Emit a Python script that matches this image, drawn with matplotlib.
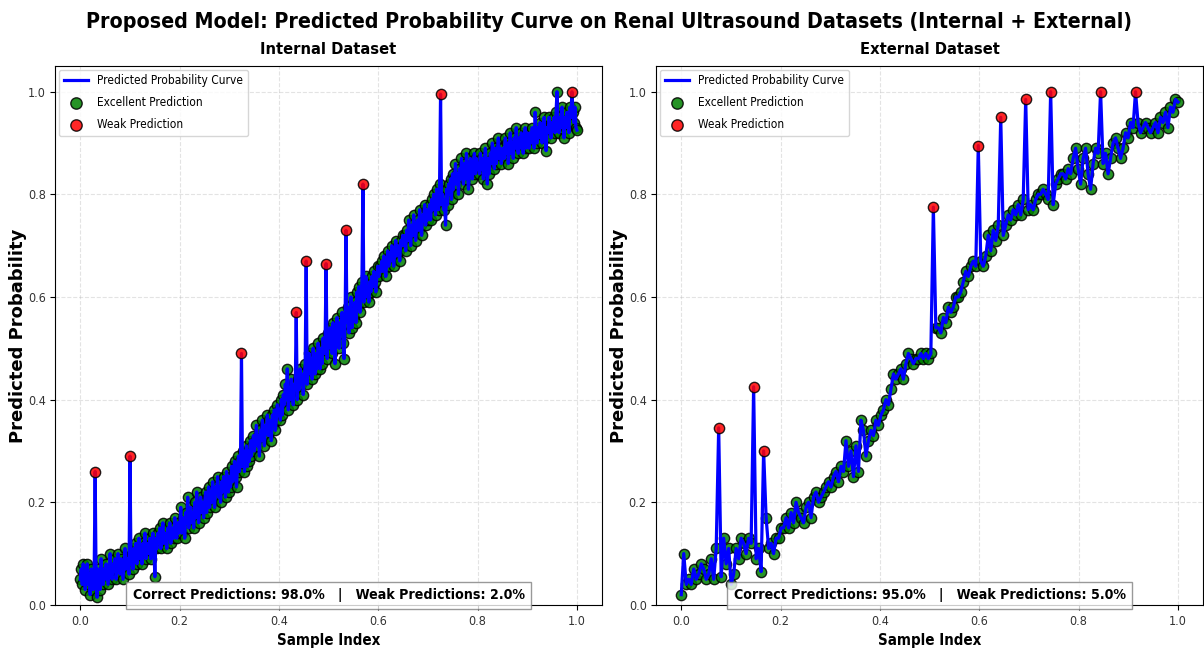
import numpy as np
import matplotlib
matplotlib.use("Agg")
import matplotlib.pyplot as plt
from matplotlib import font_manager

# pick a narrow face if one is installed
names = {(f.name, f.stretch) for f in font_manager.fontManager.ttflist}
if ("DejaVu Sans", "condensed") in names or ("DejaVu Sans", "semi-condensed") in names:
    FONT = dict(family="DejaVu Sans", stretch="condensed")
elif any(n == "Liberation Sans Narrow" for n, _ in names):
    FONT = dict(family="Liberation Sans Narrow", stretch="normal")
else:
    FONT = dict(family="DejaVu Sans", stretch="normal")
plt.rcParams["font.family"] = FONT["family"]
plt.rcParams["font.stretch"] = FONT["stretch"]

# ---- data ----
internal_prob = [
    0.05, 0.07, 0.04, 0.08, 0.06, 0.03, 0.05, 0.08, 0.04, 0.06, 0.02, 0.07, 0.05, 0.03, 0.06, 0.26, 0.04, 0.015, 0.07, 0.05, 0.03, 0.09, 0.06, 0.04, 0.07,
    0.05, 0.08, 0.06, 0.04, 0.07, 0.10, 0.06, 0.05, 0.08, 0.07, 0.09, 0.05, 0.07, 0.10, 0.08, 0.06, 0.09, 0.07, 0.05, 0.08, 0.11, 0.07, 0.09, 0.08, 0.06,
    0.29, 0.08, 0.10, 0.07, 0.11, 0.09, 0.12, 0.08, 0.10, 0.13, 0.09, 0.11, 0.08, 0.12, 0.10, 0.14, 0.09, 0.12, 0.11, 0.10, 0.13, 0.09, 0.12, 0.14, 0.11,
    0.055, 0.13, 0.11, 0.14, 0.12, 0.15, 0.11, 0.13, 0.16, 0.12, 0.14, 0.13, 0.11, 0.15, 0.13, 0.16, 0.12, 0.14, 0.15, 0.13, 0.17, 0.14, 0.13, 0.16, 0.14,
    0.15, 0.19, 0.14, 0.17, 0.16, 0.13, 0.18, 0.16, 0.21, 0.15, 0.17, 0.19, 0.16, 0.18, 0.15, 0.20, 0.17, 0.22, 0.18, 0.16, 0.19, 0.21, 0.18, 0.20, 0.17,
    0.20, 0.22, 0.18, 0.21, 0.23, 0.19, 0.22, 0.20, 0.24, 0.21, 0.19, 0.23, 0.22, 0.25, 0.21, 0.23, 0.20, 0.24, 0.22, 0.25, 0.23, 0.21, 0.26, 0.24, 0.22,
    0.25, 0.23, 0.27, 0.24, 0.26, 0.28, 0.25, 0.23, 0.27, 0.29, 0.26, 0.28, 0.49, 0.27, 0.30, 0.26, 0.29, 0.31, 0.27, 0.30, 0.28, 0.32, 0.29, 0.31, 0.33,
    0.30, 0.32, 0.35, 0.31, 0.33, 0.29, 0.34, 0.32, 0.36, 0.33, 0.31, 0.35, 0.34, 0.37, 0.33, 0.36, 0.34, 0.32, 0.37, 0.35, 0.38, 0.34, 0.36, 0.39, 0.37,
    0.38, 0.36, 0.40, 0.37, 0.41, 0.39, 0.43, 0.40, 0.46, 0.38, 0.42, 0.40, 0.44, 0.41, 0.39, 0.43, 0.42, 0.57, 0.40, 0.44, 0.42, 0.46, 0.43, 0.45, 0.41,
    0.44, 0.47, 0.67, 0.43, 0.46, 0.49, 0.45, 0.48, 0.44, 0.50, 0.47, 0.45, 0.49, 0.46, 0.51, 0.48, 0.46, 0.50, 0.47, 0.52, 0.49, 0.51, 0.665, 0.48, 0.53,
    0.50, 0.54, 0.52, 0.49, 0.55, 0.51, 0.47, 0.53, 0.56, 0.52, 0.50, 0.55, 0.53, 0.57, 0.51, 0.48, 0.54, 0.73, 0.55, 0.58, 0.53, 0.56, 0.60, 0.54, 0.57,
    0.56, 0.59, 0.55, 0.61, 0.58, 0.62, 0.57, 0.60, 0.63, 0.82, 0.59, 0.61, 0.64, 0.60, 0.62, 0.59, 0.63, 0.61, 0.64, 0.62, 0.65, 0.63, 0.61, 0.64, 0.66,
    0.64, 0.66, 0.65, 0.67, 0.65, 0.68, 0.66, 0.64, 0.67, 0.69, 0.66, 0.68, 0.67, 0.70, 0.68, 0.66, 0.69, 0.71, 0.68, 0.70, 0.69, 0.67, 0.71, 0.70, 0.72,
    0.70, 0.72, 0.69, 0.73, 0.71, 0.75, 0.72, 0.70, 0.74, 0.72, 0.76, 0.73, 0.71, 0.74, 0.75, 0.73, 0.77, 0.74, 0.72, 0.76, 0.75, 0.78, 0.74, 0.77, 0.75,
    0.76, 0.78, 0.75, 0.79, 0.77, 0.80, 0.78, 0.76, 0.81, 0.79, 0.77, 0.82, 0.995, 0.78, 0.80, 0.77, 0.79, 0.74, 0.81, 0.78, 0.82, 0.80, 0.83, 0.79, 0.84,
    0.81, 0.83, 0.86, 0.82, 0.84, 0.80, 0.85, 0.83, 0.87, 0.84, 0.82, 0.86, 0.83, 0.88, 0.85, 0.81, 0.84, 0.87, 0.85, 0.83, 0.86, 0.88, 0.84, 0.87, 0.85,
    0.86, 0.84, 0.88, 0.85, 0.87, 0.83, 0.86, 0.89, 0.85, 0.82, 0.87, 0.84, 0.88, 0.86, 0.90, 0.87, 0.85, 0.89, 0.86, 0.88, 0.91, 0.87, 0.89, 0.86, 0.88,
    0.89, 0.87, 0.91, 0.88, 0.90, 0.86, 0.89, 0.92, 0.88, 0.90, 0.87, 0.91, 0.89, 0.93, 0.90, 0.88, 0.91, 0.89, 0.92, 0.90, 0.88, 0.91, 0.93, 0.89, 0.92,
    0.91, 0.89, 0.92, 0.90, 0.93, 0.91, 0.89, 0.96, 0.92, 0.90, 0.93, 0.91, 0.94, 0.92, 0.90, 0.93, 0.95, 0.91, 0.885, 0.93, 0.92, 0.95, 0.93, 0.91, 0.94,
    0.93, 0.95, 0.92, 0.96, 1.00, 0.94, 0.92, 0.95, 0.93, 0.97, 0.94, 0.91, 0.95, 0.93, 0.96, 0.94, 0.92, 0.97, 0.95, 1.00, 0.96, 0.94, 0.97, 0.93, 0.925,
]
internal_weak = [15, 50, 162, 217, 227, 247, 267, 284, 362, 494]

external_prob = [
    0.02, 0.10, 0.04, 0.05, 0.04, 0.07, 0.05, 0.06, 0.08, 0.07, 0.05, 0.06, 0.09, 0.05, 0.11, 0.345, 0.055, 0.13, 0.08, 0.11,
    0.04, 0.06, 0.11, 0.09, 0.13, 0.12, 0.10, 0.13, 0.12, 0.425, 0.09, 0.11, 0.065, 0.30, 0.17, 0.11, 0.12, 0.10, 0.13, 0.13,
    0.15, 0.15, 0.17, 0.15, 0.18, 0.16, 0.20, 0.18, 0.17, 0.16, 0.19, 0.20, 0.17, 0.21, 0.22, 0.20, 0.21, 0.22, 0.23, 0.24,
    0.23, 0.25, 0.26, 0.24, 0.27, 0.26, 0.32, 0.27, 0.30, 0.25, 0.31, 0.26, 0.36, 0.34, 0.29, 0.32, 0.34, 0.33, 0.36, 0.35,
    0.37, 0.38, 0.40, 0.39, 0.42, 0.45, 0.44, 0.45, 0.46, 0.44, 0.47, 0.49, 0.48, 0.47, 0.48, 0.48, 0.49, 0.48, 0.49, 0.48,
    0.49, 0.775, 0.54, 0.54, 0.53, 0.56, 0.55, 0.58, 0.57, 0.58, 0.60, 0.60, 0.61, 0.63, 0.65, 0.64, 0.66, 0.67, 0.66, 0.895,
    0.67, 0.66, 0.68, 0.72, 0.69, 0.73, 0.71, 0.74, 0.95, 0.72, 0.74, 0.76, 0.75, 0.77, 0.76, 0.78, 0.76, 0.79, 0.985, 0.77,
    0.78, 0.77, 0.79, 0.80, 0.80, 0.81, 0.80, 0.79, 1.00, 0.78, 0.82, 0.83, 0.84, 0.84, 0.83, 0.85, 0.84, 0.87, 0.89, 0.85,
    0.82, 0.87, 0.89, 0.84, 0.81, 0.86, 0.89, 0.88, 1.00, 0.86, 0.88, 0.84, 0.87, 0.90, 0.91, 0.89, 0.87, 0.89, 0.92, 0.91,
    0.94, 0.93, 1.00, 0.94, 0.92, 0.93, 0.94, 0.93, 0.92, 0.93, 0.94, 0.92, 0.95, 0.94, 0.96, 0.93, 0.97, 0.96, 0.985, 0.98,
]
external_weak = [15, 29, 33, 101, 119, 128, 138, 148, 168, 182]

panels = [
    ("Internal Dataset", internal_prob, internal_weak),
    ("External Dataset", external_prob, external_weak),
]

fig, axes = plt.subplots(1, 2, figsize=(12.04, 6.54), dpi=100)
fig.subplots_adjust(left=0.046, right=0.999, bottom=0.075, top=0.899, wspace=0.10)

for ax, (title, probs, weak) in zip(axes, panels):
    y = np.array(probs)
    x = np.linspace(0, 1, len(y))
    weak_mask = np.zeros(len(y), dtype=bool)
    weak_mask[weak] = True

    ax.scatter(x[~weak_mask], y[~weak_mask], s=55, color="green", edgecolor="black",
               linewidth=1.0, alpha=0.85, zorder=2, label="Excellent Prediction")
    ax.plot(x, y, color="blue", lw=2.3, zorder=3, label="Predicted Probability Curve")
    ax.scatter(x[weak_mask], y[weak_mask], s=55, color="red", edgecolor="black",
               linewidth=1.0, alpha=0.85, zorder=4, label="Weak Prediction")

    ax.set_ylim(0, 1.05)
    ax.set_title(title, fontsize=11.8, fontweight="bold", pad=8.5)
    ax.set_xlabel("Sample Index", fontsize=10.8, fontweight="bold")
    ax.set_ylabel("Predicted Probability", fontsize=13, fontweight="bold",
                  family="DejaVu Sans", fontstretch="normal", labelpad=0.5)
    ax.grid(True, linestyle="--", alpha=0.35)
    ax.tick_params(labelsize=9, labelcolor="#333333")

    h, l = ax.get_legend_handles_labels()
    order = [l.index("Predicted Probability Curve"), l.index("Excellent Prediction"), l.index("Weak Prediction")]
    ax.legend([h[i] for i in order], [l[i] for i in order], loc="upper left", fontsize=8.6,
              borderaxespad=0.3, labelspacing=0.75, markerscale=1.1)

    pct_weak = 100 * len(weak) / len(y)
    ax.text(0.5, 0.005, f"Correct Predictions: {100 - pct_weak:.1f}%   |   Weak Predictions: {pct_weak:.1f}%",
            transform=ax.transAxes, ha="center", va="bottom", fontsize=10.2, fontweight="bold",
            bbox=dict(facecolor="white", edgecolor="gray", alpha=0.8, boxstyle="square,pad=0.45"),
            zorder=6)

fig.suptitle("Proposed Model: Predicted Probability Curve on Renal Ultrasound Datasets (Internal + External)",
             fontsize=15.3, fontweight="bold", x=0.506, y=0.966, va="center")

fig.savefig("out.png", dpi=100)
